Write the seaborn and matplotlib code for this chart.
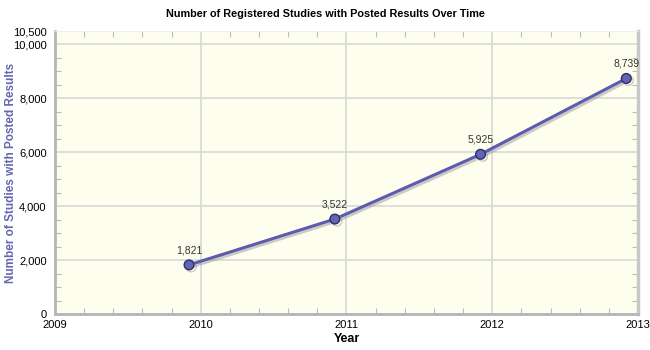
import matplotlib
matplotlib.use("Agg")
import matplotlib.pyplot as plt
import matplotlib.patheffects as pe
from matplotlib.ticker import MultipleLocator, FuncFormatter, FixedLocator
import seaborn as sns
import pandas as pd

# Snapshot dates (fractional years) and counts of studies with posted results
dates = [2009.92, 2010.92, 2011.92, 2012.92]
counts = [1821, 3522, 5925, 8739]
year_ticks = [2009, 2010, 2011, 2012, 2013]
y_ticks = [0, 2000, 4000, 6000, 8000, 10000, 10500]

df = pd.DataFrame({"Year": dates, "Studies": counts})

sns.set_theme(style="white")
plt.rcParams["font.family"] = ["Liberation Sans", "DejaVu Sans"]

fig = plt.figure(figsize=(6.5, 3.5), dpi=100)
ax = fig.add_axes([0.0846, 0.1029, 0.8969, 0.8085])
ax.set_facecolor("#fefeee")

line_color = "#5b5bb0"
sns.lineplot(data=df, x="Year", y="Studies", ax=ax, color=line_color, linewidth=2.2,
             marker="o", markersize=7, markerfacecolor="#6464b4",
             markeredgecolor="#2e2e6a", markeredgewidth=1.0,
             path_effects=[pe.SimpleLineShadow(offset=(1.5, -1.5), shadow_color="#999999", alpha=0.5),
                           pe.Normal()])

for x, y in zip(dates, counts):
    ax.annotate(f"{y:,}", (x, y), xytext=(0, 7), textcoords="offset points",
                ha="center", va="bottom", fontsize=7.5, color="#333333")

ax.set_xlim(2009, 2013)
ax.set_ylim(0, 10500)
ax.xaxis.set_major_locator(FixedLocator(year_ticks))
ax.xaxis.set_minor_locator(MultipleLocator(0.2))
ax.yaxis.set_major_locator(FixedLocator(y_ticks))
ax.yaxis.set_minor_locator(MultipleLocator(500))
ax.xaxis.set_major_formatter(FuncFormatter(lambda v, p: f"{int(round(v))}"))
ax.yaxis.set_major_formatter(FuncFormatter(lambda v, p: f"{int(v):,}"))

ax.grid(True, which="major", color="#d8d8d8", linewidth=1.2)
ax.set_axisbelow(True)
ax.tick_params(which="both", direction="in", top=True, right=True, bottom=True, left=True,
               colors="#bbbbbb", labelcolor="black", labelsize=8)
ax.tick_params(which="major", length=0)
ax.tick_params(axis="x", which="major", pad=4.5)
ax.tick_params(axis="y", which="major", pad=6)
ax.tick_params(which="minor", length=4, width=0.8)

for side in ["left", "bottom"]:
    ax.spines[side].set_color("#b5b5b5")
    ax.spines[side].set_linewidth(2)
ax.spines["right"].set_color("#c8c8c8")
ax.spines["right"].set_linewidth(2.5)
ax.spines["top"].set_color("#eeeeee")
ax.spines["top"].set_linewidth(0.8)

ax.set_xlabel("Year", fontsize=9, fontweight="bold", color="black", labelpad=2)
ax.set_ylabel("Number of Studies with Posted Results", fontsize=8.5, fontweight="bold",
              color="#6666b0")
ax.yaxis.set_label_coords(-0.066, 0.5)
fig.suptitle("Number of Registered Studies with Posted Results Over Time",
             x=0.5, y=0.975, fontsize=7.8, fontweight="bold", color="black")

fig.savefig("out.png", dpi=100, facecolor="white")
